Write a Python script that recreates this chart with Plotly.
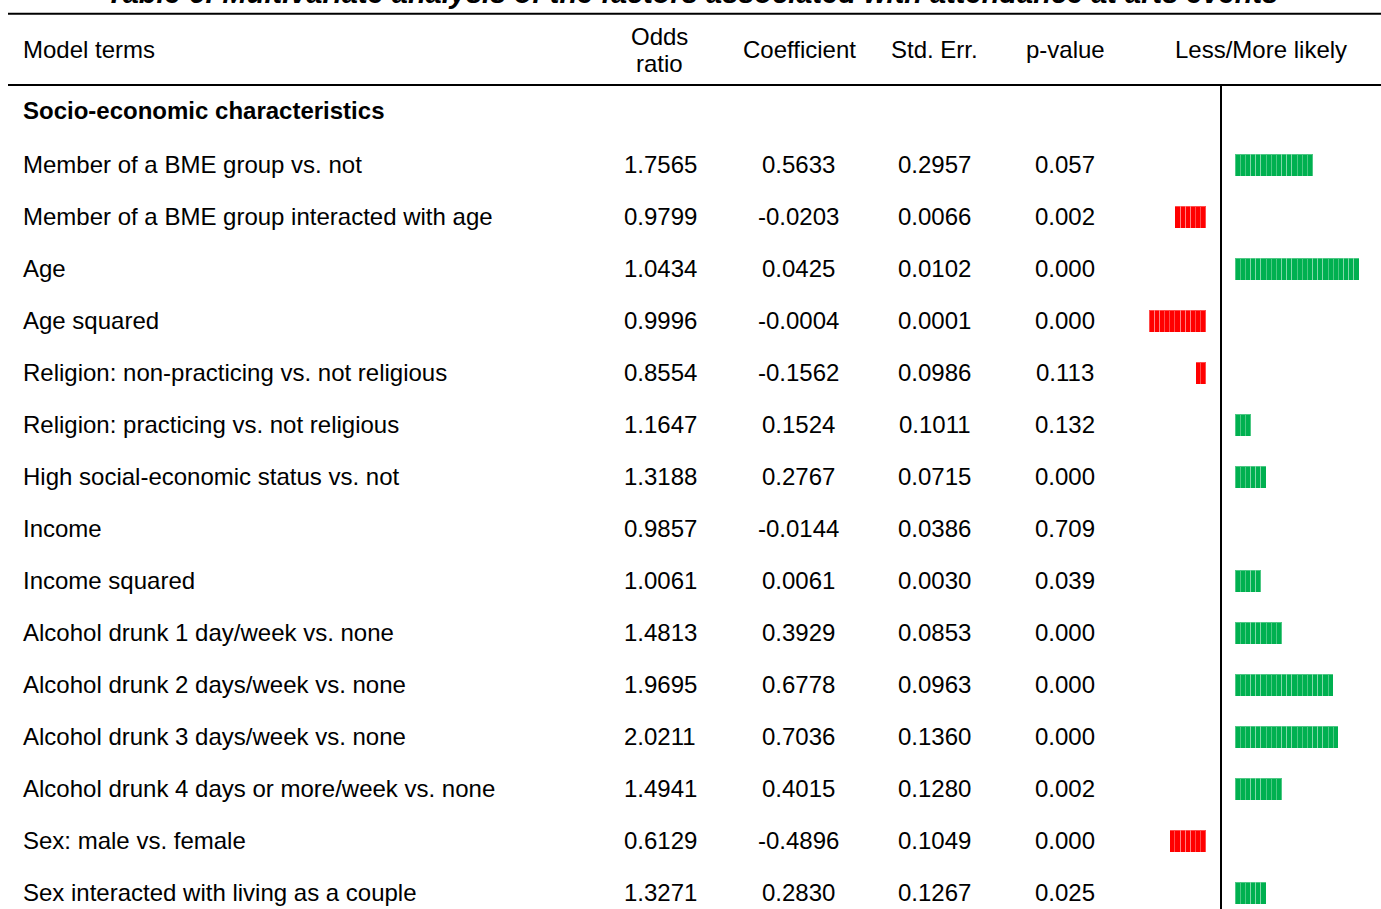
import plotly.graph_objects as go

# ---- table content ----
title_text = "Table 6: Multivariate analysis of the factors associated with attendance at arts events"
section_title = "Socio-economic characteristics"
header_labels = ["Model terms", ["Odds", "ratio"], "Coefficient", "Std. Err.", "p-value", "Less/More likely"]

model_terms = [
    "Member of a BME group vs. not",
    "Member of a BME group interacted with age",
    "Age",
    "Age squared",
    "Religion: non-practicing vs. not religious",
    "Religion: practicing vs. not religious",
    "High social-economic status vs. not",
    "Income",
    "Income squared",
    "Alcohol drunk 1 day/week vs. none",
    "Alcohol drunk 2 days/week vs. none",
    "Alcohol drunk 3 days/week vs. none",
    "Alcohol drunk 4 days or more/week vs. none",
    "Sex: male vs. female",
    "Sex interacted with living as a couple",
]
odds_ratio = [1.7565, 0.9799, 1.0434, 0.9996, 0.8554, 1.1647, 1.3188, 0.9857,
              1.0061, 1.4813, 1.9695, 2.0211, 1.4941, 0.6129, 1.3271]
coefficient = [0.5633, -0.0203, 0.0425, -0.0004, -0.1562, 0.1524, 0.2767, -0.0144,
               0.0061, 0.3929, 0.6778, 0.7036, 0.4015, -0.4896, 0.2830]
std_err = [0.2957, 0.0066, 0.0102, 0.0001, 0.0986, 0.1011, 0.0715, 0.0386,
           0.0030, 0.0853, 0.0963, 0.1360, 0.1280, 0.1049, 0.1267]
p_value = [0.057, 0.002, 0.000, 0.000, 0.113, 0.132, 0.000, 0.709,
           0.039, 0.000, 0.000, 0.000, 0.002, 0.000, 0.025]
# signed length of the less/more likely indicator, in blocks
likely_blocks = [15, -6, 24, -11, -2, 3, 6, 0, 5, 9, 19, 20, 9, -7, 6]

# ---- layout geometry (pixels) ----
W, H = 1381, 909
FONT = "Liberation Sans, Arial, sans-serif"
FS = 24
TITLE_FS = 29
ROW0_PX = 165          # centre of first data row
ROW_STEP = 52          # row pitch
TEXT_DY = -1           # small optical nudge for text baselines
BLOCK_PX = 5.17        # width of one indicator block
GREEN_START_PX = 1235
RED_END_PX = 1206
AXIS_BLOCKS = 28
DIVIDER_X = 1221
LEFT_X = 21

GREEN = "#00B050"
RED = "#FF0000"


def px_to_row(p):
    return (p - ROW0_PX) / ROW_STEP + 1


def xp(p):
    return p / W


rows = list(range(1, len(model_terms) + 1))

fig = go.Figure()

# indicator bars built from stacked unit blocks
max_blocks = max(abs(v) for v in likely_blocks)
for k in range(max_blocks):
    g = [1 if v > k else None for v in likely_blocks]
    r = [1 if -v > k else None for v in likely_blocks]
    if any(val is not None for val in g):
        fig.add_trace(go.Bar(x=g, y=rows, orientation="h", xaxis="x3", yaxis="y",
                             width=22 / ROW_STEP, marker_color=GREEN,
                             marker_line=dict(color="rgba(255,255,255,0.3)", width=1),
                             showlegend=False, hoverinfo="skip"))
    if any(val is not None for val in r):
        fig.add_trace(go.Bar(x=r, y=rows, orientation="h", xaxis="x2", yaxis="y",
                             width=22 / ROW_STEP, marker_color=RED,
                             marker_line=dict(color="rgba(255,255,255,0.3)", width=1),
                             showlegend=False, hoverinfo="skip"))

annotations = []


def text(x_px, y_row, s, anchor="center", size=FS):
    annotations.append(dict(x=xp(x_px), xref="paper", y=y_row + TEXT_DY / ROW_STEP, yref="y",
                            text=s, showarrow=False, xanchor=anchor, yanchor="middle",
                            font=dict(family=FONT, size=size, color="black")))


# title, sitting mostly above the top edge of the page
annotations.append(dict(x=xp(692), xref="paper", y=1 + 7 / H, yref="paper",
                        text="<b><i>" + title_text + "</i></b>", showarrow=False,
                        xanchor="center", yanchor="middle",
                        font=dict(family=FONT, size=TITLE_FS, color="black")))

# header
header_x = [LEFT_X, 659, 799, 934.5, 1065, 1261]
for i, (hx, lab) in enumerate(zip(header_x, header_labels)):
    if isinstance(lab, list):
        text(hx, px_to_row(37), lab[0])
        text(hx, px_to_row(64), lab[1])
    else:
        text(hx, px_to_row(50), lab, anchor="left" if i == 0 else "center")

# section title
text(LEFT_X, px_to_row(111), "<b>" + section_title + "</b>", anchor="left")

# body rows
col_x = [660, 798.5, 934.5, 1065]
for i, row in enumerate(rows):
    text(LEFT_X, row, model_terms[i], anchor="left")
    text(col_x[0], row, f"{odds_ratio[i]:.4f}")
    text(col_x[1], row, f"{coefficient[i]:.4f}")
    text(col_x[2], row, f"{std_err[i]:.4f}")
    text(col_x[3], row, f"{p_value[i]:.3f}")

shapes = [
    dict(type="line", xref="paper", yref="y", x0=xp(8), x1=1,
         y0=px_to_row(13.7), y1=px_to_row(13.7), line=dict(color="black", width=2)),
    dict(type="line", xref="paper", yref="y", x0=xp(8), x1=1,
         y0=px_to_row(85), y1=px_to_row(85), line=dict(color="black", width=2)),
    dict(type="line", xref="paper", yref="y", x0=xp(DIVIDER_X), x1=xp(DIVIDER_X),
         y0=px_to_row(85), y1=px_to_row(H + 5), line=dict(color="black", width=2)),
]

hidden = dict(visible=False, showgrid=False, zeroline=False, fixedrange=True)
fig.update_layout(
    width=W, height=H,
    margin=dict(l=0, r=0, t=0, b=0),
    paper_bgcolor="white", plot_bgcolor="white",
    barmode="stack", bargap=0,
    showlegend=False, hovermode=False,
    xaxis=dict(range=[0, 1], domain=[0, 1], **hidden),
    xaxis2=dict(range=[AXIS_BLOCKS, 0], anchor="y", overlaying="x",
                domain=[xp(RED_END_PX - AXIS_BLOCKS * BLOCK_PX), xp(RED_END_PX)], **hidden),
    xaxis3=dict(range=[0, AXIS_BLOCKS], anchor="y", overlaying="x",
                domain=[xp(GREEN_START_PX), xp(GREEN_START_PX + AXIS_BLOCKS * BLOCK_PX)], **hidden),
    yaxis=dict(range=[px_to_row(H), px_to_row(0)], domain=[0, 1], **hidden),
    annotations=annotations,
    shapes=shapes,
)

fig.write_html("out.html", config={"displayModeBar": False, "staticPlot": True})
